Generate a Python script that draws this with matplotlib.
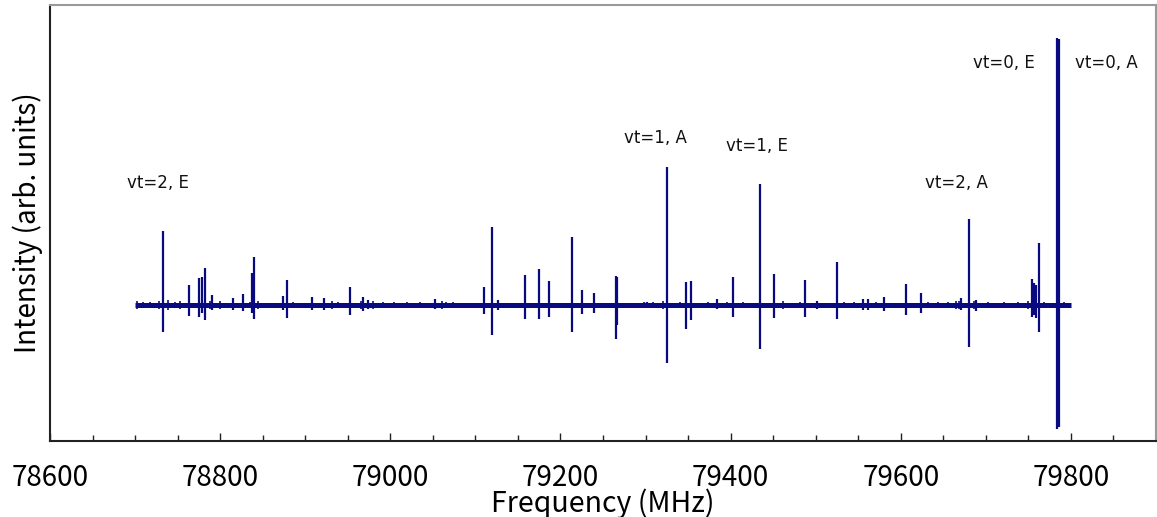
import matplotlib
matplotlib.use("Agg")
import matplotlib.pyplot as plt
from matplotlib.ticker import MultipleLocator

plt.rcParams['font.family'] = ['Noto Sans CJK JP', 'DejaVu Sans']

# Spectrum range (MHz)
scan_start = 78700
scan_stop = 79800

# Transition lines: frequency (MHz), positive lobe, negative lobe (arb. units)
peak_freq = [78733.3, 78763, 78775, 78779, 78782, 78791, 78815, 78827, 78837,
             78840, 78874, 78878, 78908, 78922, 78953, 78968, 78974,
             79053, 79110, 79120, 79127, 79158, 79175, 79187, 79213, 79225,
             79239, 79265, 79267, 79302, 79325.5, 79348, 79354, 79384, 79403,
             79434, 79451, 79488, 79502, 79525.5, 79556, 79562, 79580, 79606,
             79624, 79671, 79680, 79689, 79754, 79757, 79759, 79763,
             79783.5, 79785.6]
peak_up = [74, 20, 27, 28, 37, 10, 7, 11, 32,
           48, 9, 25, 8, 7, 18, 8, 5,
           6, 18, 78, 5, 30, 36, 24, 68, 15,
           12, 29, 28, 3, 138, 23, 24, 6, 28,
           121, 31, 25, 4, 43, 6, 6, 8, 21,
           12, 7, 86, 5, 26, 22, 20, 62,
           267, 266]
peak_down = [-27, -11, -12, -8, -15, -5, -5, -6, -8,
             -14, -5, -13, -5, -5, -10, -6, -4,
             -4, -9, -30, -5, -14, -14, -12, -27, -9,
             -8, -34, -20, -3, -58, -24, -15, -4, -12,
             -44, -13, -12, -4, -14, -5, -5, -6, -10,
             -8, -5, -42, -6, -12, -10, -13, -27,
             -124, -122]

# Weak baseline features: frequency (MHz), half amplitude (arb. units)
noise_freq = [78702, 78709, 78718, 78728, 78739, 78747, 78753, 78788, 78800,
              78835, 78844, 78886, 78932, 78939, 78965, 78980, 78991, 79004,
              79020, 79035, 79061, 79065, 79074, 79298, 79309, 79320, 79341,
              79373, 79396, 79415, 79462, 79482, 79533, 79545, 79571, 79632,
              79644, 79655, 79665, 79668, 79686, 79702, 79721, 79738, 79749,
              79768, 79792]
noise_amp = [4, 3, 3, 4, 5, 3, 4, 4, 4,
             3, 4, 3, 4, 3, 4, 4, 3, 3,
             3, 3, 4, 3, 3, 3, 3, 4, 3,
             3, 3, 3, 4, 3, 3, 3, 3, 3,
             3, 3, 4, 4, 4, 3, 3, 3, 4,
             3, 3]

# Labels of the torsional states
label_text = ['vt=2, E', 'vt=1, A', 'vt=1, E', 'vt=2, A', 'vt=0, E', 'vt=0, A']
label_freq = [78690.6, 79275, 79394, 79628, 79685, 79805]
label_y = [122, 167, 159, 122, 242, 242]

xticks = [78600, 78800, 79000, 79200, 79400, 79600, 79800]

line_color = '#0a0a80'

fig = plt.figure(figsize=(11.57, 5.17), dpi=100)
ax = fig.add_axes([50 / 1157, (517 - 441) / 517, 1106 / 1157, 436 / 517])

ax.plot([scan_start, scan_stop], [0, 0], color=line_color, lw=3.6,
        solid_capstyle='butt')
ax.vlines(noise_freq, [-a for a in noise_amp], noise_amp, color=line_color,
          lw=1.2)
ax.vlines(peak_freq, peak_down, peak_up, color=line_color, lw=1.6)

for t, fx, fy in zip(label_text, label_freq, label_y):
    ax.text(fx, fy, t, fontsize=12, ha='left', va='center', color='#111111',
            family='DejaVu Sans')

ax.set_xlim(78600, 79900)
ax.set_ylim(-136, 300)
ax.set_xticks(xticks)
ax.xaxis.set_minor_locator(MultipleLocator(50))
ax.set_yticks([])
ax.tick_params(axis='x', which='major', direction='in', length=6, width=1,
               labelsize=20, pad=16, color='#222222')
ax.tick_params(axis='x', which='minor', direction='in', length=4.5, width=1,
               color='#222222')

for side in ['left', 'bottom']:
    ax.spines[side].set_color('#222222')
    ax.spines[side].set_linewidth(1.5)
for side in ['top', 'right']:
    ax.spines[side].set_color('#999999')
    ax.spines[side].set_linewidth(1.5)

ax.set_xlabel('Frequency (MHz)', fontsize=20.5)
ax.xaxis.label.set_va('center')
ax.xaxis.set_label_coords(0.5, -0.143)
ax.set_ylabel('Intensity (arb. units)', fontsize=20)
ax.yaxis.label.set_va('center')
ax.yaxis.set_label_coords(-0.02, 0.5)

fig.savefig('out.png', dpi=100)
